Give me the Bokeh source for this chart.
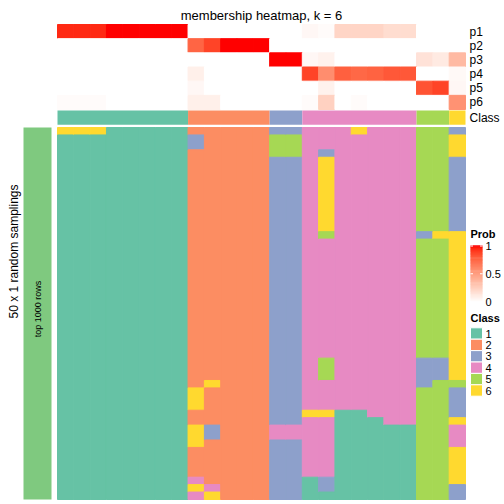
import math
from bokeh.plotting import figure
from bokeh.models import Range1d
from bokeh.core.properties import value
from bokeh.embed import file_html
from bokeh.resources import INLINE

# ---------------- data ----------------
title_text = "membership heatmap, k = 6"
row_labels = ["p1", "p2", "p3", "p4", "p5", "p6"]
class_ids = ["1", "2", "3", "4", "5", "6"]
class_colors = ["#66C2A5", "#FC8D62", "#8DA0CB", "#E78AC3", "#A6D854", "#FFD92F"]

p1 = [0.95, 0.95, 0.95, 1, 1, 1, 1, 1, 0, 0, 0, 0, 0, 0, 0, 0.04, 0.02, 0.22, 0.22, 0.22, 0.18, 0.18, 0, 0, 0]
p2 = [0, 0, 0, 0, 0, 0, 0, 0, 0.76, 0.88, 1, 1, 1, 0, 0, 0, 0, 0, 0, 0, 0, 0, 0, 0, 0]
p3 = [0, 0, 0, 0, 0, 0, 0, 0, 0, 0, 0, 0, 0, 1, 1, 0.04, 0.07, 0, 0, 0, 0, 0, 0.15, 0.11, 0.36]
p4 = [0, 0, 0, 0, 0, 0, 0, 0, 0.08, 0, 0, 0, 0, 0, 0, 0.88, 0.58, 0.78, 0.75, 0.77, 0.81, 0.81, 0, 0, 0.03]
p5 = [0, 0, 0, 0, 0, 0, 0, 0, 0.04, 0, 0, 0, 0, 0, 0, 0, 0.07, 0, 0, 0, 0, 0, 0.83, 0.88, 0.04]
p6 = [0.02, 0.02, 0.02, 0, 0, 0, 0, 0, 0.08, 0.08, 0, 0, 0, 0, 0, 0.02, 0.24, 0, 0.02, 0, 0, 0, 0, 0, 0.56]
class_row = [1, 1, 1, 1, 1, 1, 1, 1, 2, 2, 2, 2, 2, 3, 3, 4, 4, 4, 4, 4, 4, 4, 5, 5, 6]

samplings = [
    "6661111122222334446444553",
    "1111111132222554444444556",
    "1111111132222554444444556",
    "1111111122222554344444556",
    "1111111122222334644444553",
    "1111111122222334644444553",
    "1111111122222334644444553",
    "1111111122222334644444553",
    "1111111122222334644444553",
    "1111111122222334644444553",
    "1111111122222334644444553",
    "1111111122222334644444553",
    "1111111122222334644444553",
    "1111111122222334644444553",
    "1111111122222334544444366",
    "1111111122222334444444556",
    "1111111122222334444444556",
    "1111111122222334444444556",
    "1111111122222334444444556",
    "1111111122222334444444556",
    "1111111122222334444444556",
    "1111111122222334444444556",
    "1111111122222334444444556",
    "1111111122222334444444556",
    "1111111122222334444444556",
    "1111111122222334444444556",
    "1111111122222334444444556",
    "1111111122222334444444556",
    "1111111122222334444444556",
    "1111111122222334444444556",
    "1111111122222334444444556",
    "1111111122222334544444336",
    "1111111122222334544444336",
    "1111111122222334544444336",
    "1111111126222334444444355",
    "1111111162222334444444553",
    "1111111162222334444444553",
    "1111111162222334444444553",
    "1111111122222336611444553",
    "1111111122222334411144556",
    "1111111163222444411111554",
    "1111111163222444411111554",
    "1111111162222334411111554",
    "1111111122222334411111556",
    "1111111122222334411111556",
    "1111111122222334411111556",
    "1111111122222334411111556",
    "1111111142222331311111556",
    "1111111164222331311111553",
    "1111111146222331111111553",
]
anno_label = "top 1000 rows"
row_title = "50 x 1 random samplings"
prob_ticks = [1, 0.5, 0]
prob_tick_labels = ["1", "0.5", "0"]


# ---------------- colour helpers (white -> red in LAB) ----------------
def _lin(c):
    c = c / 255.0
    return c / 12.92 if c <= 0.04045 else ((c + 0.055) / 1.055) ** 2.4


def rgb2lab(r, g, b):
    R, G, B = _lin(r), _lin(g), _lin(b)
    X = (0.4124 * R + 0.3576 * G + 0.1805 * B) / 0.95047
    Y = 0.2126 * R + 0.7152 * G + 0.0722 * B
    Z = (0.0193 * R + 0.1192 * G + 0.9505 * B) / 1.08883
    f = lambda t: t ** (1 / 3) if t > 0.008856 else 7.787 * t + 16 / 116
    fx, fy, fz = f(X), f(Y), f(Z)
    return 116 * fy - 16, 500 * (fx - fy), 200 * (fy - fz)


def lab2hex(L, a, b):
    fy = (L + 16) / 116
    fx = fy + a / 500
    fz = fy - b / 200
    finv = lambda t: t ** 3 if t ** 3 > 0.008856 else (t - 16 / 116) / 7.787
    X = 0.95047 * finv(fx)
    Y = finv(fy)
    Z = 1.08883 * finv(fz)
    R = 3.2406 * X - 1.5372 * Y - 0.4986 * Z
    G = -0.9689 * X + 1.8758 * Y + 0.0415 * Z
    B = 0.0557 * X - 0.2040 * Y + 1.0570 * Z

    def g(c):
        c = min(max(c, 0.0), 1.0)
        c = 12.92 * c if c <= 0.0031308 else 1.055 * c ** (1 / 2.4) - 0.055
        return int(round(min(max(c, 0.0), 1.0) * 255))

    return "#%02x%02x%02x" % (g(R), g(G), g(B))


LAB_W = rgb2lab(255, 255, 255)
LAB_R = rgb2lab(255, 0, 0)


def prob_color(v):
    return lab2hex(*[LAB_W[i] + (LAB_R[i] - LAB_W[i]) * v for i in range(3)])


# ---------------- layout constants ----------------
W = H = 504
FONT = value("Liberation Sans")
NCOL = len(class_row)
COL_X0, COL_W = 57.0, 16.32
TOP_Y0, TOP_RH = 24.0, 14.17
CLASS_Y = 6.07
MAIN_Y0, MAIN_Y1 = 127.0, 499.0
NROW = len(samplings)
MAIN_RH = (MAIN_Y1 - MAIN_Y0) / NROW

p = figure(width=W, height=H, output_backend="svg", toolbar_location=None,
           x_axis_type=None, y_axis_type=None, min_border=0, title=None,
           x_range=Range1d(-COL_X0 / COL_W, (W - COL_X0) / COL_W),
           y_range=Range1d(H, 0))
p.extra_x_ranges = {"px": Range1d(0, W)}
p.extra_y_ranges = {
    "px": Range1d(H, 0),
    "top": Range1d((H - TOP_Y0) / TOP_RH, -TOP_Y0 / TOP_RH),
    "main": Range1d((H - MAIN_Y0) / MAIN_RH, -MAIN_Y0 / MAIN_RH),
}
p.outline_line_color = None
p.background_fill_color = "white"
p.border_fill_color = "white"

# membership rows
memb = [p1, p2, p3, p4, p5, p6]
L, R, T, B, C = [], [], [], [], []
for k, rowv in enumerate(memb):
    for c, v in enumerate(rowv):
        L.append(c); R.append(c + 1); T.append(k); B.append(k + 1)
        C.append(prob_color(v))
p.quad(left=L, right=R, top=T, bottom=B, fill_color=C, line_color=C,
       line_width=1, y_range_name="top")

# class row (runs of equal class merged)
L, R, C = [], [], []
start = 0
for c in range(1, NCOL + 1):
    if c == NCOL or class_row[c] != class_row[start]:
        L.append(start); R.append(c); C.append(class_colors[class_row[start] - 1])
        start = c
p.quad(left=L, right=R, top=[CLASS_Y] * len(L), bottom=[CLASS_Y + 1] * len(L),
       fill_color=C, line_color=None, y_range_name="top")

# main sampling heatmap (vertical runs merged per column)
L, R, T, B, C = [], [], [], [], []
for c in range(NCOL):
    r0 = 0
    for r in range(1, NROW + 1):
        if r == NROW or samplings[r][c] != samplings[r0][c]:
            L.append(c); R.append(c + 1); T.append(r0); B.append(r)
            C.append(class_colors[int(samplings[r0][c]) - 1])
            r0 = r
p.quad(left=L, right=R, top=T, bottom=B, fill_color=C, line_color=C,
       line_width=1, y_range_name="main")

# row labels
p.text(x=[NCOL + 0.25] * 7,
       y=[k + 0.5 for k in range(6)] + [CLASS_Y + 0.5],
       text=row_labels + ["Class"], y_range_name="top",
       text_font=FONT, text_font_size="12px", text_color="black",
       text_align="left", text_baseline="middle")

# title
p.text(x=[NCOL / 2], y=[15], text=[title_text], y_range_name="px",
       text_font=FONT, text_font_size="13px", text_color="black",
       text_align="center", text_baseline="alphabetic")

# left annotation bar
p.quad(left=[23], right=[51], top=[0], bottom=[NROW], fill_color="#7FC97F",
       line_color=None, x_range_name="px", y_range_name="main")
p.text(x=[37], y=[NROW / 2 - 0.6], text=[anno_label], angle=math.pi / 2,
       x_range_name="px", y_range_name="main", text_font=FONT,
       text_font_size="9px", text_color="black", text_align="center",
       text_baseline="middle")
p.text(x=[13], y=[251], text=[row_title], angle=math.pi / 2,
       x_range_name="px", y_range_name="px", text_font=FONT,
       text_font_size="12px", text_color="black", text_align="center",
       text_baseline="alphabetic")

# Prob legend
LX0, LX1 = 470, 482
BAR_0, BAR_1 = 301.0, 245.5
p.text(x=[LX0], y=[233], text=["Prob"], x_range_name="px", y_range_name="px",
       text_font=FONT, text_font_size="11px", text_font_style="bold",
       text_align="left", text_baseline="middle", text_color="black")
NS = 60
step = (BAR_0 - BAR_1) / NS
bar_vals = [i / NS for i in range(NS + 1)]
bar_y = [BAR_0 + (BAR_1 - BAR_0) * v for v in bar_vals]
p.quad(left=[LX0] * (NS + 1), right=[LX1] * (NS + 1),
       bottom=[y + 0.5 * step + 0.3 for y in bar_y],
       top=[y - 0.5 * step - 0.3 for y in bar_y],
       fill_color=[prob_color(v) for v in bar_vals], line_color=None,
       x_range_name="px", y_range_name="px")
tick_y = [BAR_0 + (BAR_1 - BAR_0) * t for t in prob_ticks]
for (xa, xb) in [(LX0, LX0 + 2.5), (LX1 - 2.5, LX1)]:
    p.segment(x0=[xa] * 2, x1=[xb] * 2, y0=tick_y[:2], y1=tick_y[:2],
              line_color="white", line_width=1, x_range_name="px", y_range_name="px")
p.text(x=[LX1 + 3] * 3, y=tick_y, text=prob_tick_labels, x_range_name="px",
       y_range_name="px", text_font=FONT, text_font_size="11px",
       text_align="left", text_baseline="middle", text_color="black")

# Class legend
p.text(x=[LX0], y=[317], text=["Class"], x_range_name="px", y_range_name="px",
       text_font=FONT, text_font_size="11px", text_font_style="bold",
       text_align="left", text_baseline="middle", text_color="black")
SQ0, SQH = 327.3, 11.4
p.quad(left=[LX0] * 6, right=[LX1] * 6,
       top=[SQ0 + i * SQH for i in range(6)],
       bottom=[SQ0 + (i + 1) * SQH for i in range(6)],
       fill_color=class_colors, line_color="white", line_width=1,
       x_range_name="px", y_range_name="px")
p.text(x=[LX1 + 3] * 6, y=[SQ0 + (i + 0.5) * SQH for i in range(6)],
       text=class_ids, x_range_name="px", y_range_name="px", text_font=FONT,
       text_font_size="11px", text_align="left", text_baseline="middle",
       text_color="black")

open("out.html", "w").write(file_html(p, INLINE))
